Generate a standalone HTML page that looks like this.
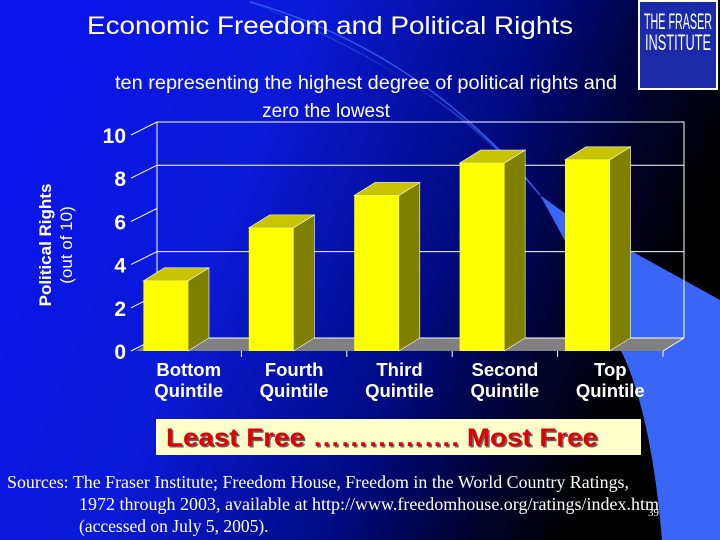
<!DOCTYPE html>
<html><head><meta charset="utf-8">
<style>
html,body{margin:0;padding:0;width:720px;height:540px;overflow:hidden}
svg{display:block}
</style></head>
<body>
<svg width="720" height="540" viewBox="0 0 720 540" xmlns="http://www.w3.org/2000/svg">
<defs>
<linearGradient id="bg" x1="0" y1="0" x2="1" y2="0.3">
<stop offset="0" stop-color="#0a14f0"/>
<stop offset="0.4" stop-color="#0a1ad8"/>
<stop offset="0.7" stop-color="#000a80"/>
<stop offset="0.88" stop-color="#00022a"/>
<stop offset="1" stop-color="#000000"/>
</linearGradient>
</defs>
<rect width="720" height="540" fill="url(#bg)"/>
<path d="M250,2 Q430,70 540,195 Q470,95 250,2 Z" fill="#2a48d0" opacity="0.7"/>
<path d="M250,2 Q420,50 540,195" fill="none" stroke="#4a70ff" stroke-width="1.5" opacity="0.7"/>
<path d="M540,195 Q600,240 633,252 L720,300 L720,540 L662,540 Q652,420 624,357 Q595,295 540,195 Z" fill="#3a66f8"/>

<text x="330" y="34" font-family="Liberation Sans, sans-serif" font-size="25" fill="#fff" text-anchor="middle" textLength="486" lengthAdjust="spacingAndGlyphs">Economic Freedom and Political Rights</text>
<text x="366" y="89" font-family="Liberation Sans, sans-serif" font-size="19" fill="#fff" text-anchor="middle" textLength="502" lengthAdjust="spacingAndGlyphs">ten representing the highest degree of political rights and</text>
<text x="326" y="117" font-family="Liberation Sans, sans-serif" font-size="19" fill="#fff" text-anchor="middle">zero the lowest</text>

<g>
<rect x="639" y="1" width="78" height="88" fill="#1a2aa8" stroke="#fff" stroke-width="2"/>
<text x="678" y="29" font-family="Liberation Sans Narrow, Liberation Sans, sans-serif" font-size="22" fill="#fff" text-anchor="middle" textLength="68" lengthAdjust="spacingAndGlyphs">THE FRASER</text>
<text x="678" y="50" font-family="Liberation Sans Narrow, Liberation Sans, sans-serif" font-size="22" fill="#fff" text-anchor="middle" textLength="66" lengthAdjust="spacingAndGlyphs">INSTITUTE</text>
</g>

<g transform="translate(51,245) rotate(-90)">
<text x="0" y="0" font-family="Liberation Sans, sans-serif" font-size="17" font-weight="bold" fill="#fff" text-anchor="middle">Political Rights</text>
<text x="0" y="21" font-family="Liberation Sans, sans-serif" font-size="17" fill="#fff" text-anchor="middle">(out of 10)</text>
</g>

<g id="chart"></g>

<rect x="156" y="419" width="485" height="36" fill="#ffffcc"/>
<text x="166" y="446" font-family="Liberation Sans, sans-serif" font-size="25" font-weight="bold" fill="#666" textLength="432" lengthAdjust="spacingAndGlyphs" transform="translate(1.5,1.5)">Least Free ……………. Most Free</text>
<text x="166" y="446" font-family="Liberation Sans, sans-serif" font-size="25" font-weight="bold" fill="#e00000" textLength="432" lengthAdjust="spacingAndGlyphs">Least Free ……………. Most Free</text>

<g font-family="Liberation Serif, serif" font-size="17.5" fill="#fff">
<text x="7" y="488" textLength="622" lengthAdjust="spacingAndGlyphs">Sources: The Fraser Institute; Freedom House, Freedom in the World Country Ratings,</text>
<text x="79" y="510" textLength="580" lengthAdjust="spacingAndGlyphs">1972 through 2003, available at http://www.freedomhouse.org/ratings/index.htm</text>
<text x="79" y="532">(accessed on July 5, 2005).</text>
<text x="648" y="516" font-size="11">39</text>
</g>

<script>
const categories = ["Bottom|Quintile","Fourth|Quintile","Third|Quintile","Second|Quintile","Top|Quintile"];
const values = [3.25, 5.7, 7.2, 8.7, 8.85];
const yTicks = [0,2,4,6,8,10];
const gridValues = [4,8,10];

const NS = "http://www.w3.org/2000/svg";
const g = document.getElementById('chart');
const fx0 = 136, fx1 = 663, fy0 = 351, unit = 21.6, dx = 21, dy = -13;
const band = (fx1 - fx0) / categories.length;
const y = v => fy0 - v * unit;
const xb = i => fx0 + i * band + 7.4;
const bw = 44.6;
function el(tag, attrs){ const e = document.createElementNS(NS, tag); for (const k in attrs) e.setAttribute(k, attrs[k]); g.appendChild(e); return e; }

const floor = el('polygon', {points:`${fx0},${fy0} ${fx1},${fy0} ${fx1+dx},${fy0+dy} ${fx0+dx},${fy0+dy}`, fill:'#808080'});


const wall = el('rect', {x:fx0+dx, y:y(10)+dy, width:fx1-fx0, height:10*unit, fill:'none', stroke:'#fff', 'stroke-width':1});


gridValues.forEach(v => {
  const l = el('line', {x1:fx0+dx, x2:fx1+dx, y1:y(v)+dy, y2:y(v)+dy, stroke:'#fff', 'stroke-width':1});
  
  
});
const re = el('line', {x1:fx1, y1:fy0, x2:fx1+dx, y2:fy0+dy, stroke:'#fff', 'stroke-width':1});


yTicks.forEach(v => {
  const t = el('line', {x1:fx0-5, y1:y(v), x2:fx0+dx, y2:y(v)+dy, stroke:'#fff', 'stroke-width':1});
  
  
  const lb = el('text', {x:fx0-10, y:y(v)+8, 'text-anchor':'end', 'font-family':'Liberation Sans, sans-serif', 'font-size':21, 'font-weight':'bold', fill:'#fff'});
  lb.textContent = v;
  
  
});
for (let i = 1; i <= categories.length; i++) {
  const t = el('line', {x1:fx0+i*band, y1:fy0, x2:fx0+i*band, y2:fy0+6, stroke:'#fff', 'stroke-width':1});
  
  
}
values.forEach((v, i) => {
  const x0 = xb(i), yt = y(v);
  const side = el('polygon', {points:`${x0+bw},${fy0} ${x0+bw},${yt} ${x0+bw+dx},${yt+dy} ${x0+bw+dx},${fy0+dy}`, fill:'#808000', stroke:'#fff', 'stroke-width':0.6});
  
  
  const top = el('polygon', {points:`${x0},${yt} ${x0+bw},${yt} ${x0+bw+dx},${yt+dy} ${x0+dx},${yt+dy}`, fill:'#c8c400', stroke:'#fff', 'stroke-width':0.6});
  
  
  const front = el('rect', {x:x0, y:yt, width:bw, height:fy0-yt, fill:'#ffff00'});
  
  
  const parts = categories[i].split('|');
  parts.forEach((p, j) => {
    const lb = el('text', {x:fx0+(i+0.5)*band, y:376+j*21, 'text-anchor':'middle', 'font-family':'Liberation Sans, sans-serif', 'font-size':18.5, 'font-weight':'bold', fill:'#fff'});
    lb.textContent = p;
    
    
  });
});
</script>
</svg>
</body></html>
